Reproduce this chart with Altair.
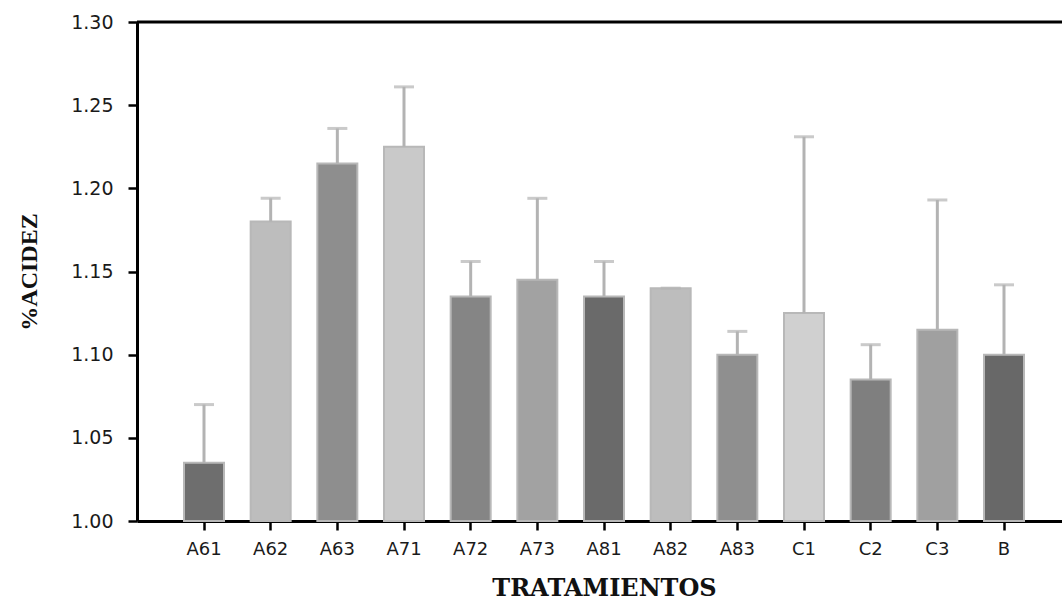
import altair as alt
import pandas as pd

# Mean acidity per treatment and the upper end of its error bar
tratamientos = ["A61", "A62", "A63", "A71", "A72", "A73", "A81", "A82", "A83", "C1", "C2", "C3", "B"]
acidez = [1.035, 1.180, 1.215, 1.225, 1.135, 1.145, 1.135, 1.140, 1.100, 1.125, 1.085, 1.115, 1.100]
acidez_sup = [1.070, 1.194, 1.236, 1.261, 1.156, 1.194, 1.156, 1.140, 1.114, 1.231, 1.106, 1.193, 1.142]

# Grey tone of each treatment's bar
tonos = ["#6e6e6e", "#bdbdbd", "#8e8e8e", "#c9c9c9", "#858585", "#a2a2a2", "#6a6a6a",
         "#bdbdbd", "#8f8f8f", "#d0d0d0", "#7f7f7f", "#a0a0a0", "#686868"]

y_ticks = [1.00, 1.05, 1.10, 1.15, 1.20, 1.25, 1.30]

df = pd.DataFrame({
    "tratamiento": tratamientos,
    "acidez": acidez,
    "acidez_sup": acidez_sup,
    "tono": tonos,
})

W, H = 925, 499

x_enc = alt.X(
    "tratamiento:N",
    sort=tratamientos,
    scale=alt.Scale(paddingInner=0.4, paddingOuter=0.6375, align=0.553),
    axis=alt.Axis(
        title="TRATAMIENTOS",
        labelAngle=0,
        labelFont="DejaVu Sans",
        labelFontSize=18,
        labelColor="#1a1a1a",
        labelPadding=10,
        tickSize=9,
        tickWidth=2.5,
        tickColor="black",
        domainColor="black",
        domainWidth=3,
        titleFont="DejaVu Serif",
        titleFontWeight="bold",
        titleFontSize=24,
        titleColor="#111111",
        titleBaseline="alphabetic",
        titleX=467,
        titleY=74,
    ),
)

y_scale = alt.Scale(domain=[1.0, 1.30], zero=False, nice=False)
y_axis = alt.Axis(
    title="%ACIDEZ",
    values=y_ticks,
    format=".2f",
    grid=False,
    labelFont="DejaVu Sans",
    labelFontSize=19,
    labelColor="#1a1a1a",
    labelPadding=15,
    tickSize=9,
    tickWidth=2.5,
    tickColor="black",
    domainColor="black",
    domainWidth=3,
    titleFont="Liberation Serif",
    titleFontWeight="bold",
    titleFontSize=24,
    titleColor="#111111",
    titleBaseline="alphabetic",
    titleAngle=270,
    titleX=-101,
    titleY=H / 2,
)

base = alt.Chart(df)

bars = base.mark_bar(stroke="#b8b8b8", strokeWidth=2).encode(
    x=x_enc,
    y=alt.Y("acidez:Q", scale=y_scale, axis=y_axis),
    y2=alt.datum(1.0),
    fill=alt.Fill("tono:N", scale=None),
)

# Upper error bars with caps
err = base.mark_rule(color="#b3b3b3", strokeWidth=3).encode(
    x=alt.X("tratamiento:N", sort=tratamientos),
    y=alt.Y("acidez:Q", scale=y_scale),
    y2="acidez_sup:Q",
)
caps = base.mark_tick(color="#b3b3b3", thickness=3, size=20).encode(
    x=alt.X("tratamiento:N", sort=tratamientos),
    y=alt.Y("acidez_sup:Q", scale=y_scale),
)

# Top border of the frame
top_line = alt.Chart(pd.DataFrame({"y": [1.30]})).mark_rule(color="black", strokeWidth=3).encode(
    y=alt.Y("y:Q", scale=y_scale),
    x=alt.value(0),
    x2=alt.value(W + 10),
)

chart = (
    alt.layer(bars, err, caps, top_line)
    .properties(
        width=W,
        height=H,
        autosize=alt.AutoSizeParams(type="none"),
        padding={"left": 137, "top": 22, "right": 0, "bottom": 81},
        background="white",
    )
    .configure_view(stroke=None)
)

chart.save("out.html", embed_options={"renderer": "svg", "actions": False})
